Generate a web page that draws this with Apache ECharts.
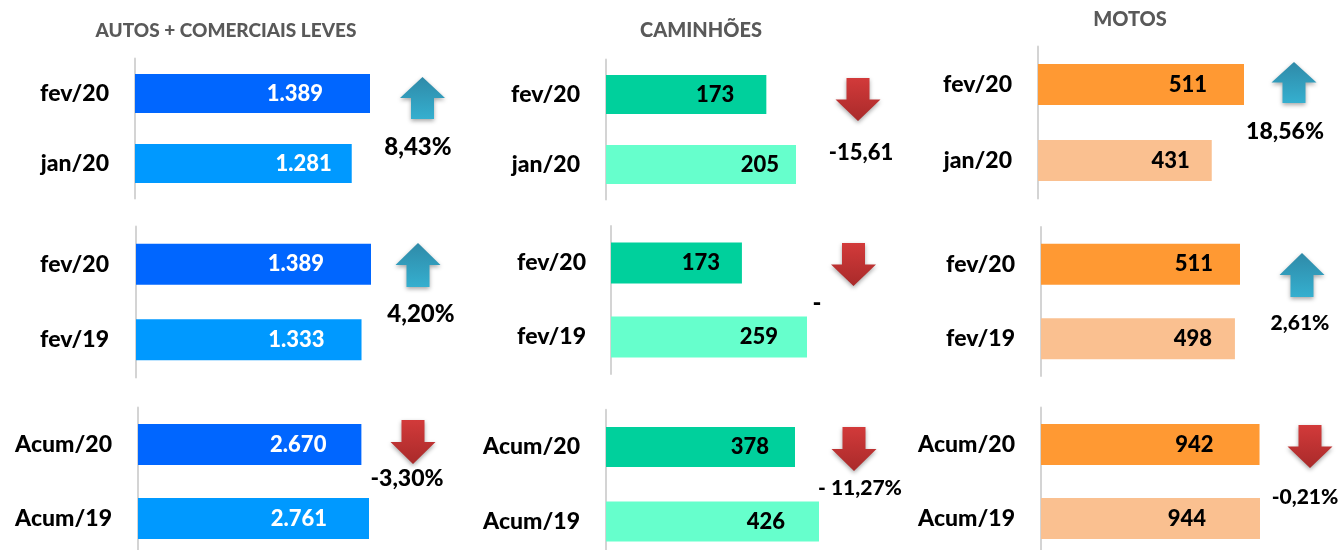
<!DOCTYPE html>
<html>
<head>
<meta charset="utf-8">
<title>Autos, caminhões e motos</title>
<script src="https://cdn.jsdelivr.net/npm/echarts@6/dist/echarts.min.js"></script>
<style>
  html, body { margin: 0; padding: 0; background: #fff; width: 1344px; height: 550px; overflow: hidden; }
  /* um pouco mais alto que a janela: a última linha passa da borda inferior */
  #chart { width: 1344px; height: 560px; }
</style>
</head>
<body>
<div id="chart"></div>
<script>
// dados
const titles = ['AUTOS + COMERCIAIS LEVES', 'CAMINHÕES', 'MOTOS'];
const periods = [['fev/20', 'jan/20'], ['fev/20', 'fev/19'], ['Acum/20', 'Acum/19']];
const autosValues = [[1389, 1281], [1389, 1333], [2670, 2761]];
const caminhoesValues = [[173, 205], [173, 259], [378, 426]];
const motosValues = [[511, 431], [511, 498], [942, 944]];
const autosChanges = ['8,43%', '4,20%', '-3,30%'];
const caminhoesChanges = ['-15,61', '-', '- 11,27%'];
const motosChanges = ['18,56%', '2,61%', '-0,21%'];

const values = [autosValues, caminhoesValues, motosValues];
const changes = [autosChanges, caminhoesChanges, motosChanges];

// layout em px: [eixo x, topo, altura, largura da maior barra, espessura]
const panelBoxes = [
  [[135, 58.5, 140, 235, 39], [136, 226.5, 151, 235, 41], [138, 407.5, 148, 231, 41]],
  [[606, 59.5, 140, 190, 39], [611, 226, 148, 196, 41], [606, 409.75, 149, 213, 40]],
  [[1038, 46.5, 152, 206, 41], [1041, 227, 149, 199, 41], [1041, 407.5, 148, 219, 41]]
];
// distância do rótulo até o fim da barra
const labelInsets = [
  [[47, 20], [47, 37], [35, 42]],
  [[32, 17], [22, 29], [26, 34]],
  [[37, 22], [27, 23], [46, 54]]
];
const tickMargins = [
  [26, 27, 26],
  [26, 25, 26],
  [26, 26, 26]
];
const barColors = [['#0066ff', '#0099ff'], ['#00d09c', '#66ffcc'], ['#ff9933', '#fac090']];
const labelColors = ['#ffffff', '#000000', '#000000'];
const titlePos = [[226, 31], [701, 31], [1130, 20]];
const titleSizes = [19, 20, 20];
// seta: [centro x, topo, altura, direção]
const arrows = [
  [[422.5, 77, 42, 'up'], [418, 243, 44, 'up'], [413, 420, 44, 'down']],
  [[858, 78, 43, 'down'], [853.5, 243, 43, 'down'], [854, 427, 44, 'down']],
  [[1294, 62, 41, 'up'], [1302, 253, 44, 'up'], [1310, 425, 43, 'down']]
];
const changePos = [
  [[418, 147], [421, 314], [407, 479]],
  [[861, 153], [817, 303], [860, 488]],
  [[1285, 132], [1300, 323], [1305, 497]]
];
const changeSizes = [
  [24, 24, 23],
  [22, 24, 21],
  [23, 21, 21]
];

const FONT = 'Lato, "Open Sans", sans-serif';

function fmt(v) {
  return String(v).replace(/\B(?=(\d{3})+$)/g, '.');
}

function arrowGraphic(a) {
  const cx = a[0], top = a[1], h = a[2], up = a[3] === 'up';
  const hw = 22.5, sw = 11.5, head = h / 2;
  const pts = up
    ? [[0, 0], [hw, head], [sw, head], [sw, h], [-sw, h], [-sw, head], [-hw, head]]
    : [[-sw, 0], [sw, 0], [sw, head], [hw, head], [0, h], [-hw, head], [-sw, head]];
  return {
    type: 'polygon',
    x: cx,
    y: top,
    shape: { points: pts },
    style: {
      fill: new echarts.graphic.LinearGradient(0, 0, 0, 1, up
        ? [{ offset: 0, color: '#2f8aa8' }, { offset: 1, color: '#35afcf' }]
        : [{ offset: 0, color: '#d23a3a' }, { offset: 1, color: '#a92a2a' }]),
      shadowBlur: 4,
      shadowOffsetY: 2,
      shadowColor: 'rgba(0,0,0,0.35)'
    }
  };
}

const grid = [], xAxis = [], yAxis = [], series = [], graphic = [];

titles.forEach((t, col) => {
  graphic.push({
    type: 'text',
    x: titlePos[col][0],
    y: titlePos[col][1],
    style: { text: t, fill: '#595959', font: '900 ' + titleSizes[col] + 'px ' + FONT, align: 'center', verticalAlign: 'middle' }
  });

  periods.forEach((cats, row) => {
    const box = panelBoxes[col][row];
    const vals = values[col][row];
    const idx = grid.length;
    grid.push({ left: box[0], top: box[1], width: box[3], height: box[2] });
    xAxis.push({ gridIndex: idx, type: 'value', min: 0, max: Math.max(vals[0], vals[1]), show: false });
    yAxis.push({
      gridIndex: idx,
      type: 'category',
      inverse: true,
      data: cats,
      axisTick: { show: false },
      axisLine: { show: true, lineStyle: { color: '#d4d4d4', width: 2 } },
      axisLabel: { margin: tickMargins[col][row], color: '#000', fontFamily: FONT, fontWeight: 900, fontSize: 23, padding: [3, 0, 0, 0] }
    });
    series.push({
      type: 'bar',
      xAxisIndex: idx,
      yAxisIndex: idx,
      barWidth: box[4],
      silent: true,
      data: vals.map((v, i) => ({
        value: v,
        itemStyle: { color: barColors[col][i] },
        label: { distance: labelInsets[col][row][i] }
      })),
      label: {
        show: true,
        position: 'insideRight',
        formatter: p => fmt(p.value),
        color: labelColors[col],
        fontFamily: FONT,
        fontWeight: 900,
        fontSize: 22,
        padding: [3, 0, 0, 0]
      }
    });

    graphic.push(arrowGraphic(arrows[col][row]));
    graphic.push({
      type: 'text',
      x: changePos[col][row][0],
      y: changePos[col][row][1],
      style: { text: changes[col][row], fill: '#000', font: '900 ' + changeSizes[col][row] + 'px ' + FONT, align: 'center', verticalAlign: 'middle' }
    });
  });
});

const chart = echarts.init(document.getElementById('chart'));
chart.setOption({ animation: false, grid, xAxis, yAxis, series, graphic });
</script>
</body>
</html>
